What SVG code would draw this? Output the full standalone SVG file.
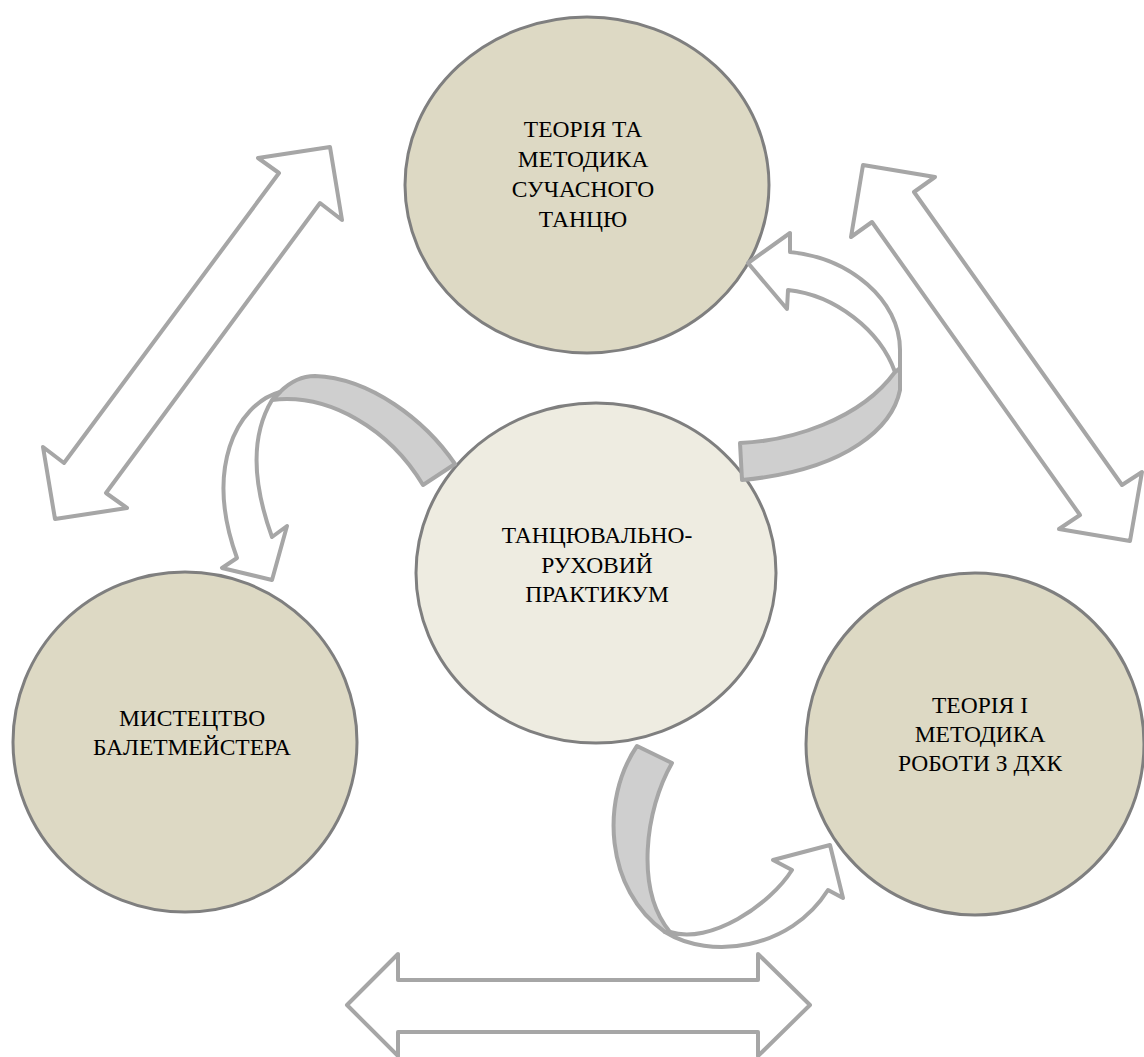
<svg xmlns="http://www.w3.org/2000/svg" width="1144" height="1057" viewBox="0 0 1144 1057">
<style>
.outer{fill:#DDD9C4;stroke:#7F7F7F;stroke-width:3}
.inner{fill:#EEECE1;stroke:#7F7F7F;stroke-width:3}
.arr{fill:#FFFFFF;stroke:#A6A6A6;stroke-width:4;stroke-linejoin:round}
.band{fill:#CFCFCF;stroke:#A6A6A6;stroke-width:4;stroke-linejoin:round}
.lbl{font-family:'Liberation Serif','Times New Roman',Tinos,'DejaVu Serif',serif;font-size:23.5px;font-weight:400;fill:#000000;text-anchor:middle}
</style>
<rect width="1144" height="1057" fill="#FFFFFF"/>
<g id="connectors">
<polygon class="arr" points="330,147 342,220 320,203 106,493 127,508 55,519 43,447 64,463 279,173 258,158"/>
<polygon class="arr" points="863,165 935,177 914,192 1122,485 1142,472 1130,541 1059,529 1080,515 872,222 851,237"/>
<polygon class="arr" points="347,1005 398,954 398,980 758,980 758,954 810,1005 758,1056 758,1032 398,1032 398,1056"/>
</g>
<g id="node-top">
<ellipse class="outer" cx="587" cy="185" rx="182" ry="168"/>
<text class="lbl" x="583" y="137">ТЕОРІЯ ТА</text>
<text class="lbl" x="583" y="167">МЕТОДИКА</text>
<text class="lbl" x="583" y="197">СУЧАСНОГО</text>
<text class="lbl" x="583" y="227">ТАНЦЮ</text>
</g>
<g id="node-left">
<ellipse class="outer" cx="185" cy="742" rx="172" ry="170"/>
<text class="lbl" x="192" y="726">МИСТЕЦТВО</text>
<text class="lbl" x="192" y="755">БАЛЕТМЕЙСТЕРА</text>
</g>
<g id="node-right">
<ellipse class="outer" cx="975" cy="744" rx="169" ry="171"/>
<text class="lbl" x="980" y="713">ТЕОРІЯ І</text>
<text class="lbl" x="980" y="742">МЕТОДИКА</text>
<text class="lbl" x="980" y="771">РОБОТИ З ДХК</text>
</g>
<g id="node-center">
<ellipse class="inner" cx="596" cy="573" rx="180" ry="170"/>
<text class="lbl" x="597" y="543">ТАНЦЮВАЛЬНО-</text>
<text class="lbl" x="597" y="573">РУХОВИЙ</text>
<text class="lbl" x="597" y="602">ПРАКТИКУМ</text>
</g>
<g id="curved-arrows">
<path class="band" d="M740,443 C790,441 860,420 895,372 L900,368 L900,390 C893,425 850,470 742,480 Z"/>
<path class="arr" d="M895,372 C880,330 835,295 788,290 L787,309 L748,263 L790,233 L790,252 C850,258 900,300 900,350 L900,368 Z"/>
<path class="band" d="M455,464 C425,420 370,378 315,376 C300,376 288,384 280,392 L272,400 C330,393 390,430 423,485 Z"/>
<path class="arr" d="M280,392 C235,405 205,470 237,558 L222,568 L272,580 L287,526 L272,537 C255,490 248,440 272,400 Z"/>
<path class="band" d="M637,746 L672,763 C645,810 635,890 670,932 L665,932 C605,890 600,800 637,746 Z"/>
<path class="arr" d="M665,932 C710,960 790,950 828,890 L843,898 L830,845 L773,860 L792,870 C770,905 710,945 670,932 Z"/>
</g>
</svg>
